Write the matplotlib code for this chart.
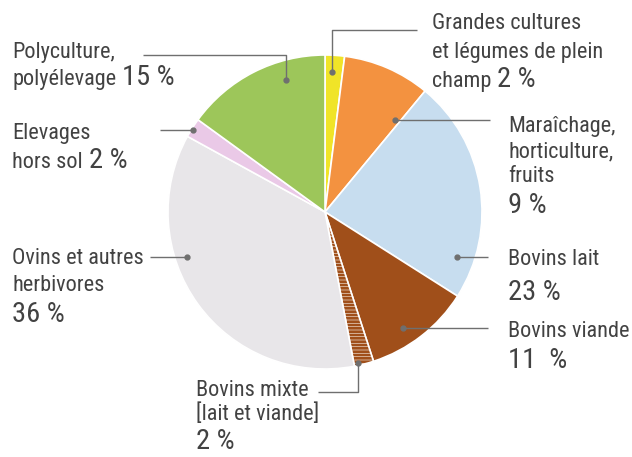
import matplotlib
matplotlib.use("Agg")
import matplotlib.pyplot as plt
from matplotlib.patches import Wedge

labels = ["Grandes cultures et légumes de plein champ", "Maraîchage, horticulture, fruits",
          "Bovins lait", "Bovins viande", "Bovins mixte (lait et viande)",
          "Ovins et autres herbivores", "Elevages hors sol", "Polyculture, polyélevage"]
values = [2, 9, 23, 11, 2, 36, 2, 15]
colors = ["#f0e428", "#f39240", "#c7ddef", "#a04f1a", "#ffffff", "#e8e6e9", "#eac9e7", "#9dc65a"]
hatched = [False, False, False, False, True, False, False, False]

W, H = 632, 457
fig = plt.figure(figsize=(W / 100, H / 100), dpi=100)
ax = fig.add_axes([0, 0, 1, 1])
ax.set_xlim(0, W)
ax.set_ylim(H, 0)
ax.set_aspect("equal")
ax.axis("off")

cx, cy, R = 325, 212, 157
plt.rcParams["hatch.linewidth"] = 2.0

total = sum(values)
ang = 90.0
for v, c, h in zip(values, colors, hatched):
    span = 360.0 * v / total
    # y axis is inverted, so increasing angle runs clockwise on screen
    t1 = -ang
    t2 = -ang + span
    if h:
        ax.add_patch(Wedge((cx, cy), R, t1, t2, facecolor="#fbf6f0", edgecolor="#a04f1a",
                           hatch="-----", linewidth=0))
        ax.add_patch(Wedge((cx, cy), R, t1, t2, facecolor="none", edgecolor="white", linewidth=1.2))
    else:
        ax.add_patch(Wedge((cx, cy), R, t1, t2, facecolor=c, edgecolor="white", linewidth=1.2))
    ang -= span

ax.set_xlim(0, W)
ax.set_ylim(H, 0)

lc = "#6f6f6f"
def leader(xs, ys):
    ax.plot(xs, ys, color=lc, lw=1.0, solid_capstyle="butt")
    ax.plot([xs[-1]], [ys[-1]], "o", color=lc, ms=3.5)

leader([143, 286, 286], [55, 55, 80])
leader([160, 193], [130, 130])
leader([150, 187], [257, 257])
leader([417, 332, 332], [30, 30, 72])
leader([490, 395], [120, 120])
leader([488, 457], [257, 257])
leader([488, 403], [328, 328])
leader([318, 358, 358], [392, 392, 363])

tc = "#424242"
fam = ["Roboto Condensed", "Roboto", "DejaVu Sans"]
fs = 16
fb = 20.5

def txt(x, y, s, size=fs):
    return ax.text(x, y, s, fontsize=size, color=tc, family=fam, va="baseline", ha="left")

fig.canvas.draw()
renderer = fig.canvas.get_renderer()

def txt_pct(x, y, s, pct, gap=6):
    t = txt(x, y, s)
    bb = t.get_window_extent(renderer)
    x_end = ax.transData.inverted().transform((bb.x1, bb.y0))[0]
    txt(x_end + gap, y, pct, fb)

txt(12, 58, "Polyculture,")
txt_pct(12, 85, "polyélevage", "15 %")
txt(12, 139, "Elevages")
txt_pct(12, 168, "hors sol", "2 %")
txt(12, 264, "Ovins et autres")
txt(12, 291, "herbivores")
txt(12, 322, "36 %", fb)
txt(432, 29, "Grandes cultures")
txt(432, 58, "et légumes de plein")
txt_pct(432, 87, "champ", "2 %")
txt(508, 132, "Maraîchage,")
txt(508, 157, "horticulture,")
txt(508, 182, "fruits")
txt(508, 213, "9 %", fb)
txt(508, 265, "Bovins lait")
txt(508, 300, "23 %", fb)
txt(508, 337, "Bovins viande")
txt(508, 368, "11  %", fb)
txt(196, 396, "Bovins mixte")
txt(196, 420, "[lait et viande]")
txt(196, 449, "2 %", fb)

fig.savefig("out.png", dpi=100, facecolor="white")
